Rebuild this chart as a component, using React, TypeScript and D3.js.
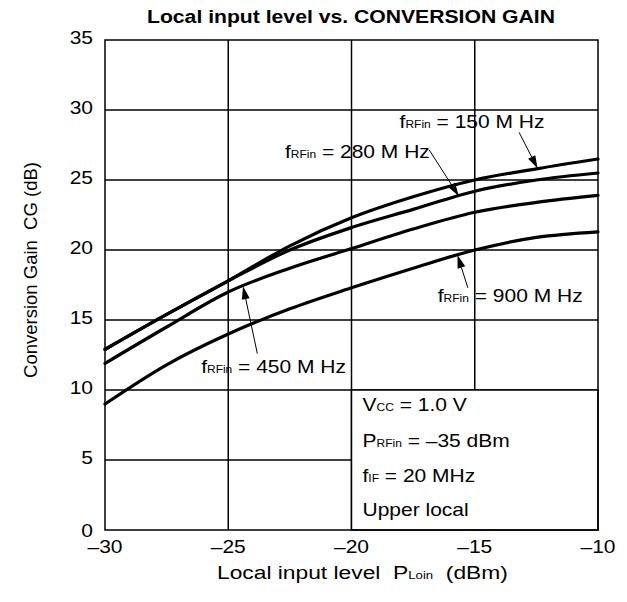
import React from "react";
import * as d3 from "d3";

const xValues = [-30, -27.5, -25, -22.5, -20, -17.5, -15, -12.5, -10];
const cg150 = [12.9, 15.4, 17.8, 20.3, 22.3, 23.8, 25.0, 25.8, 26.5];
const cg280 = [12.9, 15.4, 17.8, 20.0, 21.6, 22.9, 24.2, 25.0, 25.5];
const cg450 = [11.9, 14.5, 17.0, 18.7, 20.1, 21.5, 22.7, 23.4, 23.9];
const cg900 = [9.0, 11.8, 14.0, 15.8, 17.3, 18.7, 20.0, 20.9, 21.3];

const seriesNames = ["150", "280", "450", "900"];
const seriesValues = [cg150, cg280, cg450, cg900];

const xTicks = [-30, -25, -20, -15, -10];
const yTicks = [0, 5, 10, 15, 20, 25, 30, 35];

// annotations: label anchor (data coords), arrow tail (data coords), arrow tip x on curve
const annSeries = ["150", "280", "900", "450"];
const annLabelX = [-18.05, -22.7, -16.5, -26.1];
const annLabelY = [28.7, 26.55, 16.3, 11.2];
const annTailX = [-13.2, -16.85, -15.28, -23.82];
const annTailY = [28.4, 27.15, 17.3, 12.6];
const annTipX = [-12.45, -15.65, -15.7, -24.4];

const conditions = [
  { main: "V", sub: "CC", rest: " = 1.0 V" },
  { main: "P", sub: "RFin", rest: " = \u201335 dBm" },
  { main: "f", sub: "IF", rest: " = 20 MHz" },
  { main: "Upper local", sub: "", rest: "" },
];

const W = 627;
const H = 602;
const m = { left: 105, right: 598, top: 40, bottom: 530 };
const FONT = "'Liberation Sans', Arial, Helvetica, sans-serif";
const FS = 17.5;
const SUB = 10;
const SX = 1.2;

function T(props: {
  x: number;
  y: number;
  anchor?: "start" | "middle" | "end";
  children: React.ReactNode;
  size?: number;
}) {
  return (
    <text
      transform={`translate(${props.x},${props.y}) scale(${SX},1)`}
      textAnchor={props.anchor || "start"}
      fontSize={props.size || FS}
      fill="#000"
      style={{ whiteSpace: "pre" }}
    >
      {props.children}
    </text>
  );
}

export default function App() {
  const x = d3.scaleLinear().domain([-30, -10]).range([m.left, m.right]);
  const y = d3.scaleLinear().domain([0, 35]).range([m.bottom, m.top]);

  const line = d3
    .line<[number, number]>()
    .x((d) => x(d[0]))
    .y((d) => y(d[1]))
    .curve(d3.curveMonotoneX);

  const interp = (vals: number[], xv: number) => {
    for (let i = 0; i < xValues.length - 1; i++) {
      if (xv >= xValues[i] && xv <= xValues[i + 1]) {
        const t = (xv - xValues[i]) / (xValues[i + 1] - xValues[i]);
        return vals[i] + t * (vals[i + 1] - vals[i]);
      }
    }
    return vals[vals.length - 1];
  };

  const boxX0 = x(-20);
  const boxY0 = y(10);
  const condBase = [411, 447, 482, 516];

  return (
    <svg
      width={W}
      height={H}
      style={{ position: "absolute", left: 0, top: 0, background: "#fff" }}
      fontFamily={FONT}
    >
      <rect x={0} y={0} width={W} height={H} fill="#fff" />
      {/* title */}
      <text
        x={147}
        y={23}
        fontSize={18}
        fontWeight="bold"
        fill="#000"
        textLength={408}
        lengthAdjust="spacingAndGlyphs"
      >
        Local input level vs. CONVERSION GAIN
      </text>

      {/* grid */}
      {xTicks.slice(1, -1).map((t) => (
        <line key={"gx" + t} x1={x(t)} x2={x(t)} y1={y(35)} y2={y(0)} stroke="#000" strokeWidth={1.5} />
      ))}
      {yTicks.slice(1, -1).map((t) => (
        <line key={"gy" + t} x1={x(-30)} x2={x(-10)} y1={y(t)} y2={y(t)} stroke="#000" strokeWidth={1.5} />
      ))}

      {/* conditions box */}
      <rect
        x={boxX0}
        y={boxY0}
        width={x(-10) - boxX0}
        height={y(0) - boxY0}
        fill="#fff"
        stroke="#000"
        strokeWidth={1.5}
      />
      {conditions.map((c, i) => (
        <T key={"c" + i} x={boxX0 + 11} y={condBase[i]}>
          {c.main}
          {c.sub && <tspan fontSize={SUB}>{c.sub}</tspan>}
          {c.rest}
        </T>
      ))}

      {/* frame */}
      <rect
        x={m.left}
        y={m.top}
        width={m.right - m.left}
        height={m.bottom - m.top}
        fill="none"
        stroke="#000"
        strokeWidth={1.5}
      />

      {/* curves */}
      {seriesValues.map((vals, si) => (
        <path
          key={"s" + seriesNames[si]}
          d={line(xValues.map((xx, i) => [xx, vals[i]] as [number, number])) || ""}
          fill="none"
          stroke="#000"
          strokeWidth={3.2}
          strokeLinecap="round"
        />
      ))}

      {/* annotations */}
      {annSeries.map((name, i) => {
        const vals = seriesValues[seriesNames.indexOf(name)];
        const tx = x(annTipX[i]);
        const ty = y(interp(vals, annTipX[i]));
        const sx = x(annTailX[i]);
        const sy = y(annTailY[i]);
        const ang = Math.atan2(ty - sy, tx - sx);
        const L = 13;
        const Wd = 4;
        const bx = tx - L * Math.cos(ang);
        const by = ty - L * Math.sin(ang);
        const p1 = [bx + Wd * Math.sin(ang), by - Wd * Math.cos(ang)];
        const p2 = [bx - Wd * Math.sin(ang), by + Wd * Math.cos(ang)];
        return (
          <g key={"a" + name}>
            <line x1={sx} y1={sy} x2={bx} y2={by} stroke="#000" strokeWidth={1} />
            <polygon points={`${tx},${ty} ${p1[0]},${p1[1]} ${p2[0]},${p2[1]}`} fill="#000" />
            <T x={x(annLabelX[i])} y={y(annLabelY[i])}>
              f<tspan fontSize={SUB}>RFin</tspan>{` = ${name} M Hz`}
            </T>
          </g>
        );
      })}

      {/* y tick labels */}
      {yTicks.map((t) => (
        <T key={"yl" + t} x={93} y={y(t) + (t === 0 ? 7 : 4)} anchor="end">
          {String(t)}
        </T>
      ))}
      {/* x tick labels */}
      {xTicks.map((t) => (
        <T key={"xl" + t} x={x(t)} y={553} anchor="middle">
          {"\u2013" + Math.abs(t)}
        </T>
      ))}

      {/* axis titles */}
      <T x={217} y={579} size={19}>
        {"Local input level  P"}
        <tspan fontSize={SUB + 1}>Loin</tspan>
        {"  (dBm)"}
      </T>
      <text
        transform={`translate(37, 270) rotate(-90)`}
        textAnchor="middle"
        fontSize={18.5}
        fill="#000"
        style={{ whiteSpace: "pre" }}
      >
        {"Conversion Gain  CG (dB)"}
      </text>
    </svg>
  );
}
